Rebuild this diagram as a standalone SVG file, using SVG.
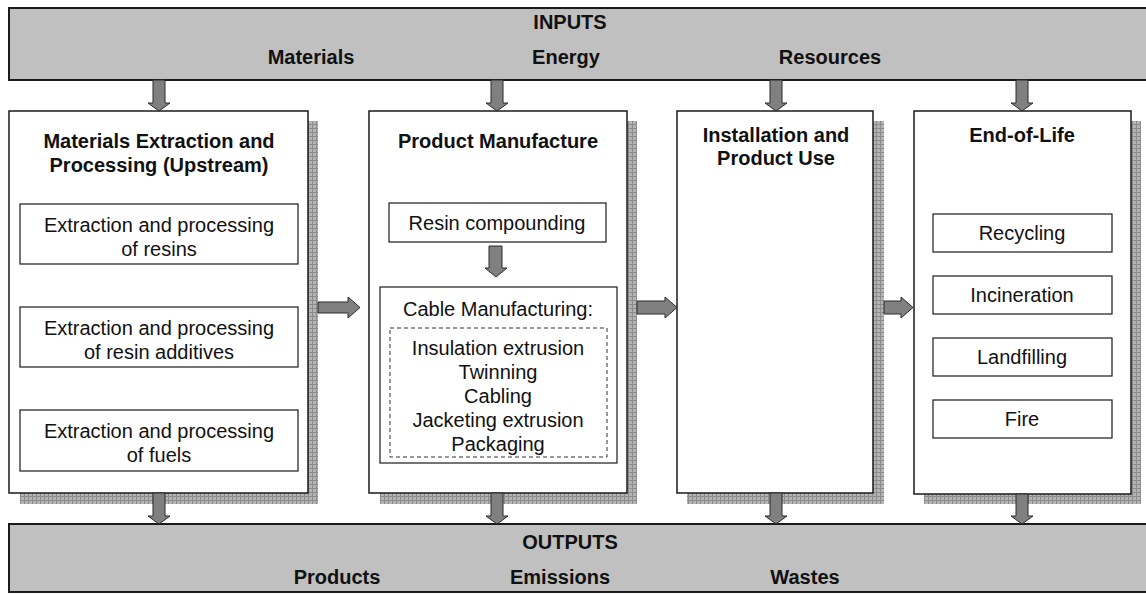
<svg xmlns="http://www.w3.org/2000/svg" width="1146" height="594" viewBox="0 0 1146 594">
<defs>
<pattern id="grid" width="4" height="4" patternUnits="userSpaceOnUse">
<rect width="4" height="4" fill="#b4b4b4"/>
<path d="M0 0.5H4M0.5 0V4" stroke="#8c8c8c" stroke-width="1"/>
</pattern>
<style>
.bar{fill:#c0c0c0;stroke:#1a1a1a;stroke-width:2}
.box{fill:#fff;stroke:#1a1a1a;stroke-width:1.5}
.sub{fill:#fff;stroke:#1a1a1a;stroke-width:1.2}
.dash{fill:none;stroke:#333;stroke-width:1;stroke-dasharray:4 3}
.shadow{fill:url(#grid)}
.arrow{fill:#808080;stroke:#2a2a2a;stroke-width:1}
text{font-family:"Liberation Sans",Arial,sans-serif;font-size:20px;fill:#111;text-anchor:middle}
.b{font-weight:bold}
</style>
</defs>
<g id="inputs">
<rect class="bar" x="9" y="8" width="1150" height="72"/>
<text class="b" x="570" y="29">INPUTS</text>
<text class="b" x="311" y="64">Materials</text>
<text class="b" x="566" y="64">Energy</text>
<text class="b" x="830" y="64">Resources</text>
</g>
<g id="outputs">
<rect class="bar" x="9" y="524" width="1150" height="68"/>
<text class="b" x="570" y="549">OUTPUTS</text>
<text class="b" x="337" y="584">Products</text>
<text class="b" x="560" y="584">Emissions</text>
<text class="b" x="805" y="584">Wastes</text>
</g>
<g id="upstream">
<rect class="shadow" x="20" y="121" width="298" height="383"/>
<rect class="box" x="9" y="111" width="299" height="382"/>
<text class="b" x="159" y="148">Materials Extraction and</text>
<text class="b" x="159" y="172">Processing (Upstream)</text>
<rect class="sub" x="20" y="204" width="278" height="60"/>
<text x="159" y="232">Extraction and processing</text>
<text x="159" y="256">of resins</text>
<rect class="sub" x="20" y="307" width="278" height="60"/>
<text x="159" y="335">Extraction and processing</text>
<text x="159" y="359">of resin additives</text>
<rect class="sub" x="20" y="410" width="278" height="61"/>
<text x="159" y="438">Extraction and processing</text>
<text x="159" y="462">of fuels</text>
</g>
<g id="manufacture">
<rect class="shadow" x="380" y="121" width="257" height="383"/>
<rect class="box" x="369" y="111" width="258" height="382"/>
<text class="b" x="498" y="148">Product Manufacture</text>
<rect class="sub" x="389" y="203" width="217" height="39"/>
<text x="497" y="230">Resin compounding</text>
<rect class="sub" x="380" y="287" width="237" height="176"/>
<text x="498" y="316">Cable Manufacturing:</text>
<rect class="dash" x="390" y="328" width="217" height="129"/>
<text x="498" y="355">Insulation extrusion</text>
<text x="498" y="379">Twinning</text>
<text x="498" y="403">Cabling</text>
<text x="498" y="427">Jacketing extrusion</text>
<text x="498" y="451">Packaging</text>
</g>
<g id="use">
<rect class="shadow" x="687" y="121" width="197" height="383"/>
<rect class="box" x="677" y="111" width="196" height="382"/>
<text class="b" x="776" y="142">Installation and</text>
<text class="b" x="776" y="165">Product Use</text>
</g>
<g id="endoflife">
<rect class="shadow" x="924" y="121" width="217" height="383"/>
<rect class="box" x="914" y="111" width="217" height="383"/>
<text class="b" x="1022" y="142">End-of-Life</text>
<rect class="sub" x="933" y="214" width="179" height="38"/>
<text x="1022" y="240">Recycling</text>
<rect class="sub" x="933" y="276" width="179" height="38"/>
<text x="1022" y="302">Incineration</text>
<rect class="sub" x="933" y="338" width="179" height="38"/>
<text x="1022" y="364">Landfilling</text>
<rect class="sub" x="933" y="400" width="179" height="38"/>
<text x="1022" y="426">Fire</text>
</g>
<g id="connectors">
<path class="arrow" d="M153 80H165V103H170L159 111L148 103H153Z"/>
<path class="arrow" d="M491 80H503V103H508L497 111L486 103H491Z"/>
<path class="arrow" d="M770 80H782V103H787L776 111L765 103H770Z"/>
<path class="arrow" d="M1016 80H1028V103H1033L1022 111L1011 103H1016Z"/>
<path class="arrow" d="M153 493H165V516H170L159 524L148 516H153Z"/>
<path class="arrow" d="M491 493H503V516H508L497 524L486 516H491Z"/>
<path class="arrow" d="M770 493H782V516H787L776 524L765 516H770Z"/>
<path class="arrow" d="M1016 494H1028V516H1033L1022 524L1011 516H1016Z"/>
<path class="arrow" d="M489 246H502V268H507L496 277L485 268H489Z"/>
<path class="arrow" d="M318 302V313H348V318L360 307.5L348 297V302Z"/>
<path class="arrow" d="M637 301V314H665V318L677 307.5L665 297V301Z"/>
<path class="arrow" d="M884 301V314H901V318L913 307.5L901 297V301Z"/>
</g>
</svg>
